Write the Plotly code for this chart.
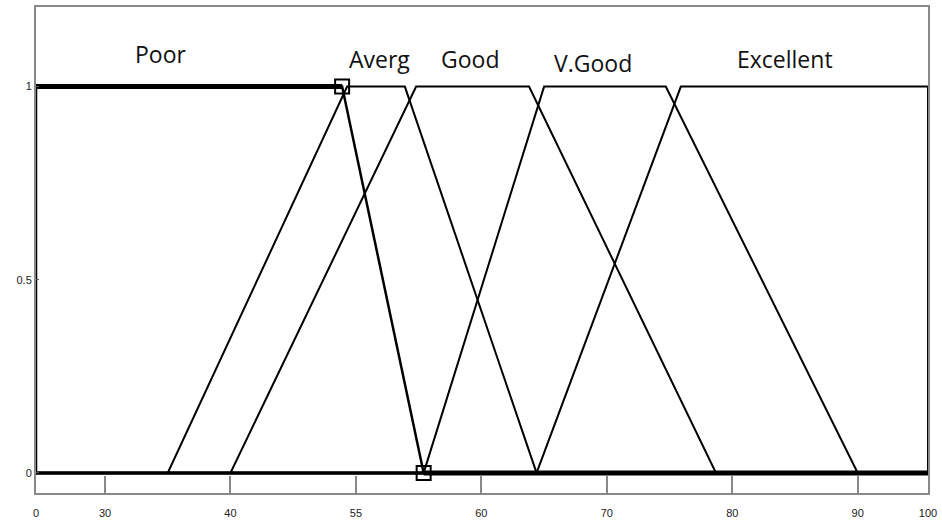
import plotly.graph_objects as go

# Universe of discourse (score axis) and its tick labels
x_min, x_max = 24.5, 95.6
tick_vals = [24.5, 30, 40, 50, 60, 70, 80, 90, 95.6]
tick_text = ["0", "30", "40", "55", "60", "70", "80", "90", "100"]

# Trapezoidal membership functions [a, b, c, d]
mf_names = ["Poor", "Averg", "Good", "V.Good", "Excellent"]
mf_params = [
    [24.5, 24.5, 48.9, 55.4],
    [35.0, 49.3, 53.9, 64.4],
    [40.0, 54.8, 63.8, 78.7],
    [55.4, 65.0, 74.7, 90.0],
    [64.4, 75.9, 95.6, 95.6],
]
# Label positions (x, y) above each set
label_x = [34.5, 51.9, 59.1, 68.9, 84.2]
label_y = [1.085, 1.072, 1.072, 1.062, 1.072]

selected = 0  # index of the highlighted membership function

fig = go.Figure()

# baseline at zero membership
fig.add_trace(go.Scatter(x=[x_min, x_max], y=[0, 0], mode="lines",
                         line=dict(color="#333333", width=4), hoverinfo="skip"))

for i, (name, p) in enumerate(zip(mf_names, mf_params)):
    a, b, c, d = p
    xs = [x_min, a, b, c, d, x_max]
    ys = [0, 0, 1, 1, 0, 0]
    if i == selected:
        fig.add_trace(go.Scatter(x=xs, y=ys, mode="lines", name=name,
                                 line=dict(color="black", width=2.5)))
        # bold flat segments of the selected set
        fig.add_trace(go.Scatter(x=[x_min, c], y=[1, 1], mode="lines",
                                 line=dict(color="black", width=5)))
        fig.add_trace(go.Scatter(x=[d, x_max], y=[0, 0], mode="lines",
                                 line=dict(color="black", width=5)))
        # handle markers at the sloped segment ends
        fig.add_trace(go.Scatter(x=[c, d], y=[1, 0], mode="markers",
                                 marker=dict(symbol="square-open", size=14,
                                             color="black",
                                             line=dict(width=2, color="black"))))
    else:
        fig.add_trace(go.Scatter(x=xs, y=ys, mode="lines", name=name,
                                 line=dict(color="black", width=2)))

for name, lx, ly in zip(mf_names, label_x, label_y):
    fig.add_annotation(x=lx, y=ly, text=name, showarrow=False,
                       font=dict(family="Open Sans", size=23, color="#111111"),
                       xanchor="center", yanchor="middle")

axis_font = dict(family="Liberation Sans Narrow, Liberation Sans, Arial",
                 size=11, color="#222222")

fig.update_layout(
    width=942, height=525,
    margin=dict(l=36, r=11, t=5, b=32),
    paper_bgcolor="white", plot_bgcolor="white",
    showlegend=False,
    xaxis=dict(range=[x_min, x_max], tickvals=tick_vals, ticktext=tick_text,
               ticks="inside", ticklen=17, tickcolor="#888888", tickwidth=1.5,
               ticklabelstandoff=9,
               showgrid=False, zeroline=False, showline=True, mirror=True,
               linecolor="#888888", linewidth=2, tickfont=axis_font),
    yaxis=dict(range=[-0.052, 1.206], tickvals=[0, 0.5, 1],
               ticktext=["0", "0.5", "1"],
               ticks="inside", ticklen=3, tickcolor="#555555",
               showgrid=False, zeroline=False, showline=True, mirror=True,
               linecolor="#888888", linewidth=2, tickfont=axis_font),
)

fig.write_html("out.html")
